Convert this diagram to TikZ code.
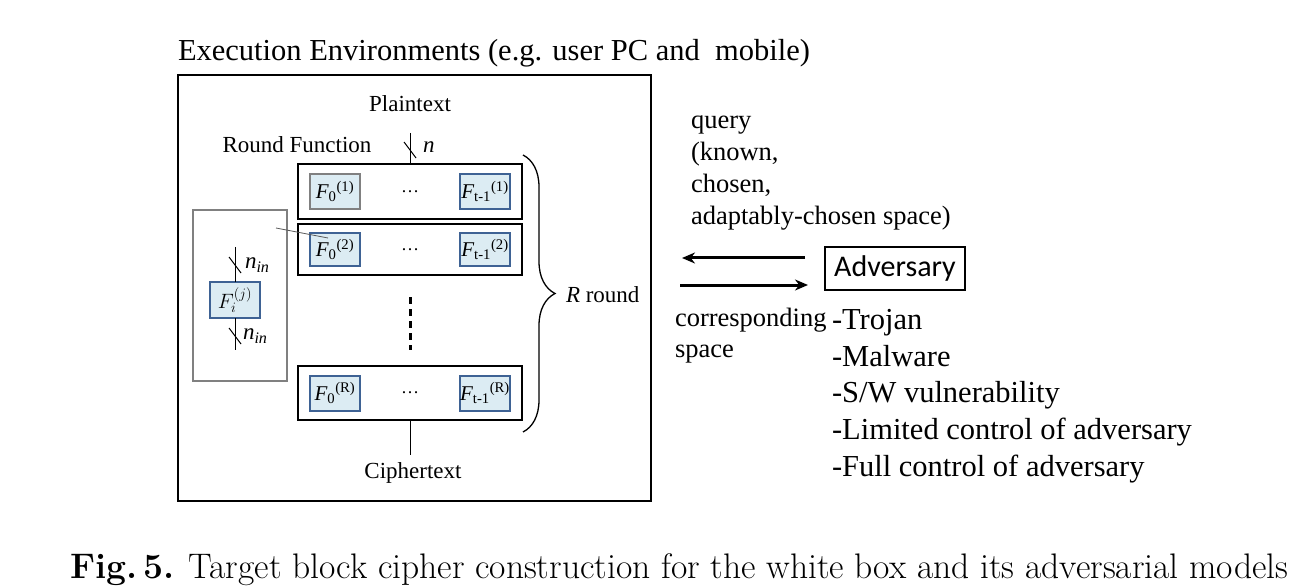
\documentclass[tikz,border=0pt]{standalone}
\usepackage{fontspec}
\newfontfamily\timesfont{Liberation Serif}
\newfontfamily\advfont{Carlito}
\usetikzlibrary{positioning,arrows.meta,decorations.pathreplacing}
\definecolor{fblue}{RGB}{62,98,148}
\definecolor{fcyan}{RGB}{220,236,243}
\newcommand{\Fr}[2]{{\itshape F}\textsubscript{#1}\textsuperscript{(#2)}}
\newcommand{\nin}{{\itshape n}\textsubscript{\itshape in}}

\begin{document}
\begin{tikzpicture}[x=1pt, y=-1pt,
   every node/.style={inner sep=0pt, outer sep=0pt},
   txt/.style={font=\timesfont\fontsize{23}{27}\selectfont},
   bigtxt/.style={anchor=base west, font=\timesfont\fontsize{26.5}{32}\selectfont},
   roundbox/.style={draw, line width=2.4pt, minimum width=224pt, minimum height=54pt},
   fnbox/.style={draw=fblue, fill=fcyan, line width=2pt, minimum width=50pt,
                 minimum height=35pt, font=\timesfont\fontsize{21}{23}\selectfont},
   dotstxt/.style={font=\timesfont\fontsize{18}{20}\selectfont},
   slash/.style={line width=1pt},
   arr/.style={line width=3pt, -{Stealth[length=13pt,width=11pt]}},
   listitem/.style={anchor=base west, font=\timesfont\fontsize{30.5}{34}\selectfont}]

\useasboundingbox (0,0) rectangle (1315,588);

\node[anchor=base west, font=\timesfont\fontsize{30.5}{34}\selectfont] (title) at (178,61)
   {Execution Environments (e.g. user PC and\ \ mobile)};
\node[draw, line width=2pt, minimum width=473pt, minimum height=426pt] (env) at (414.5,288) {};

\node[txt] (plain) at (410,104) {Plaintext};
\node[txt] (rf) at (297,145) {Round Function};

% rounds
\node[roundbox, minimum height=55pt] (r1) at (410,191.5) {};
\node[roundbox, minimum height=51pt] (r2) at (410,249.5) {};
\node[roundbox] (rR) at (410,393) {};

\node[fnbox, draw=gray, right=12pt of r1.west] (f01) {\Fr{0}{1}};
\node[fnbox, left=12pt of r1.east] (ft1) {\Fr{t-1}{1}};
\node[dotstxt] (d1) at (r1.center) {\dots};
\node[fnbox, minimum height=33pt, right=12pt of r2.west] (f02) {\Fr{0}{2}};
\node[fnbox, minimum height=33pt, left=12pt of r2.east] (ft2) {\Fr{t-1}{2}};
\node[dotstxt] (d2) at (r2.center) {\dots};
\node[fnbox, right=12pt of rR.west] (f0R) {\Fr{0}{R}};
\node[fnbox, left=12pt of rR.east] (ftR) {\Fr{t-1}{R}};
\node[dotstxt] (dR) at (rR.center) {\dots};

\coordinate (pin) at (410,133);
\draw[line width=1pt] (pin) -- (r1.north);
\draw[slash] (410,150) +(-6,-8) -- +(6,8);
\node[txt, anchor=west] (nlab) at (423,147) {\itshape n};

\draw[line width=3pt, dash pattern=on 7pt off 5pt] ([yshift=-22pt]r2.south) -- ([yshift=16pt]rR.north);

\coordinate (pout) at (410,455);
\draw[line width=1pt] (rR.south) -- (pout);
\node[txt, anchor=base] (cipher) at (413,478) {Ciphertext};

\draw[line width=1.3pt, decorate, decoration={brace, amplitude=32pt}] (523,155) -- (523,432);
\node[txt, anchor=west] (rr) at (566,295) {\itshape R\upshape\ round};

% zoomed round function
\node[draw=gray, line width=1.5pt, minimum width=94pt, minimum height=171pt] (zoom) at (240,295.5) {};
\node[fnbox, minimum height=36pt, font=\fontsize{21}{23}\selectfont] (fij) at (235,300) {$F_i^{(j)}$};
\coordinate (zin) at (235,247);
\coordinate (zout) at (235,350);
\draw[line width=1pt] (zin) -- (fij.north);
\draw[line width=1pt] (fij.south) -- (zout);
\draw[slash] (235,265) +(-6,-8) -- +(6,8);
\draw[slash] (235,336) +(-6,-8) -- +(6,8);
\node[txt, anchor=west] (nin1) at (245,265) {\nin};
\node[txt, anchor=west] (nin2) at (243,336) {\nin};
\coordinate (zlink) at (276,228);
\draw[gray!70!black, line width=0.8pt] (zlink) -- ([xshift=18pt,yshift=-5pt]f02.north west);

% adversary side
\node[bigtxt] (q1) at (691,129) {query};
\node[bigtxt] (q2) at (691,161) {(known,};
\node[bigtxt] (q3) at (691,193) {chosen,};
\node[bigtxt] (q4) at (691,225) {adaptably-chosen space)};

\node[draw, line width=1.5pt, minimum width=140pt, minimum height=43pt,
      font=\advfont\fontsize{30}{34}\selectfont] (adv) at (895,268.5) {Adversary};

\coordinate (qend) at (682,258);
\draw[arr] ([xshift=-20pt,yshift=10.5pt]adv.west) -- (qend);
\coordinate (rstart) at (680,285);
\draw[arr] (rstart) -- ([xshift=-17pt,yshift=-16.5pt]adv.west);

\node[bigtxt] (c1) at (675,326) {corresponding};
\node[bigtxt] (c2) at (675,357) {space};

\foreach \itm [count=\i] in {-Trojan, -Malware, -S/W vulnerability,
    -Limited control of adversary, -Full control of adversary}
  \node[listitem] (item\i) at (832, 293+36.6*\i) {\itm};

\node[anchor=base west, font=\fontsize{35.5}{38}\selectfont] (cap) at (70,578)
   {\textbf{Fig.\,5.} Target block cipher construction for the white box and its adversarial models};

\end{tikzpicture}
\end{document}
